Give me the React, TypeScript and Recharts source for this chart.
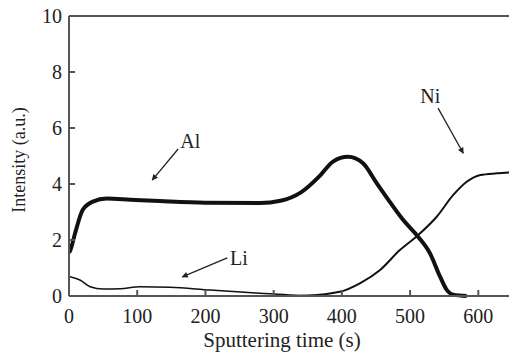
import React from "react";
import {
  LineChart,
  Line,
  XAxis,
  YAxis,
  ReferenceLine,
  ReferenceDot,
  Label,
} from "recharts";

// Al (thick, noisy trace)
const alTime = [0, 2, 9, 20, 35, 55, 90, 133, 200, 280, 310, 340, 368, 387, 409, 431, 451, 470, 490, 512, 529, 544, 554, 563, 583];
const alValue = [1.55, 1.64, 2.25, 3.07, 3.37, 3.48, 3.44, 3.39, 3.33, 3.32, 3.4, 3.7, 4.3, 4.8, 4.97, 4.74, 4.03, 3.37, 2.71, 2.11, 1.53, 0.69, 0.21, 0.05, 0];

// Li
const liTime = [0, 16, 31, 50, 75, 104, 148, 207, 280, 330, 360];
const liValue = [0.7, 0.57, 0.33, 0.25, 0.26, 0.33, 0.31, 0.21, 0.1, 0.03, 0.01];

// Ni
const niTime = [300, 350, 397, 427, 456, 485, 512, 539, 563, 583, 603, 627, 645];
const niValue = [0, 0.02, 0.15, 0.46, 0.93, 1.64, 2.18, 2.83, 3.6, 4.08, 4.32, 4.38, 4.41];

const xTicks = [0, 100, 200, 300, 400, 500, 600];
const yTicks = [0, 2, 4, 6, 8, 10];

const alData = alTime.map((t, i) => ({ t, v: alValue[i] }));
const liData = liTime.map((t, i) => ({ t, v: liValue[i] }));
const niData = niTime.map((t, i) => ({ t, v: niValue[i] }));

// annotations in data coordinates
const notes = [
  { name: "Al", text: [163, 5.55], from: [160, 5.25], to: [122, 4.14] },
  { name: "Li", text: [236, 1.36], from: [232, 1.36], to: [166, 0.68] },
  { name: "Ni", text: [515, 7.15], from: [541, 6.71], to: [578, 5.1] },
];

const FONT = "Liberation Serif";
const INK = "#222";

function Arrow(props: any) {
  const { x1, y1, x2, y2 } = props;
  return <line x1={x1} y1={y1} x2={x2} y2={y2} stroke={INK} strokeWidth={1.3} markerEnd="url(#arrowHead)" />;
}

function NoteText(props: any) {
  const { cx, cy, value } = props;
  return (
    <text x={cx} y={cy} dy="0.35em" fontFamily={FONT} fontSize={20} fill={INK}>
      {value}
    </text>
  );
}

function XTick(props: any) {
  const { x, payload } = props;
  return (
    <text x={x} y={323} textAnchor="middle" fontFamily={FONT} fontSize={20} fill={INK}>
      {payload.value}
    </text>
  );
}

function YTick(props: any) {
  const { y, payload } = props;
  return (
    <text x={62} y={y} dy="0.35em" textAnchor="end" fontFamily={FONT} fontSize={20} fill={INK}>
      {payload.value}
    </text>
  );
}

function XTitle(props: any) {
  const { viewBox } = props;
  return (
    <text x={viewBox.x + viewBox.width / 2 - 7} y={347} textAnchor="middle" fontFamily={FONT} fontSize={21} fill={INK}>
      Sputtering time (s)
    </text>
  );
}

function YTitle(props: any) {
  const { viewBox } = props;
  const cy = viewBox.y + viewBox.height / 2;
  return (
    <text x={0} y={0} transform={`translate(19, ${cy + 4}) rotate(-90)`} textAnchor="middle" dominantBaseline="central" fontFamily={FONT} fontSize={18} fill={INK}>
      Intensity (a.u.)
    </text>
  );
}

export default function App() {
  return (
    <div style={{ position: "absolute", left: 0, top: 0, background: "#fff", fontFamily: FONT }}>
      <LineChart width={509} height={354} margin={{ top: 16, right: 0, bottom: 0, left: 0 }}>
        <defs>
          <marker id="arrowHead" viewBox="0 0 10 10" refX="9" refY="5" markerWidth="10" markerHeight="6" orient="auto" markerUnits="userSpaceOnUse">
            <path d="M0,0 L10,5 L0,10 z" fill={INK} />
          </marker>
        </defs>
        <XAxis
          dataKey="t"
          type="number"
          domain={[0, 645]}
          allowDataOverflow
          ticks={xTicks}
          height={58}
          stroke="#555"
          strokeWidth={2}
          tickSize={-6}
          tick={<XTick />}
        >
          <Label content={<XTitle />} />
        </XAxis>
        <YAxis
          type="number"
          domain={[0, 10]}
          ticks={yTicks}
          width={69}
          stroke="#555"
          strokeWidth={2}
          tickSize={-6}
          tick={<YTick />}
        >
          <Label content={<YTitle />} />
        </YAxis>
        <ReferenceLine y={10} stroke="#555" strokeWidth={2} />
        <Line data={liData} dataKey="v" type="monotone" stroke="#111" strokeWidth={1.5} dot={false} isAnimationActive={false} />
        <Line data={niData} dataKey="v" type="monotone" stroke="#111" strokeWidth={2} dot={false} isAnimationActive={false} />
        <Line data={alData} dataKey="v" type="monotone" stroke="#111" strokeWidth={4} dot={false} isAnimationActive={false} />
        {notes.map((n) => (
          <ReferenceLine
            key={n.name + "-arrow"}
            segment={[
              { x: n.from[0], y: n.from[1] },
              { x: n.to[0], y: n.to[1] },
            ]}
            shape={<Arrow />}
          />
        ))}
        {notes.map((n) => (
          <ReferenceDot key={n.name} x={n.text[0]} y={n.text[1]} r={0} shape={<NoteText value={n.name} />} />
        ))}
      </LineChart>
    </div>
  );
}
